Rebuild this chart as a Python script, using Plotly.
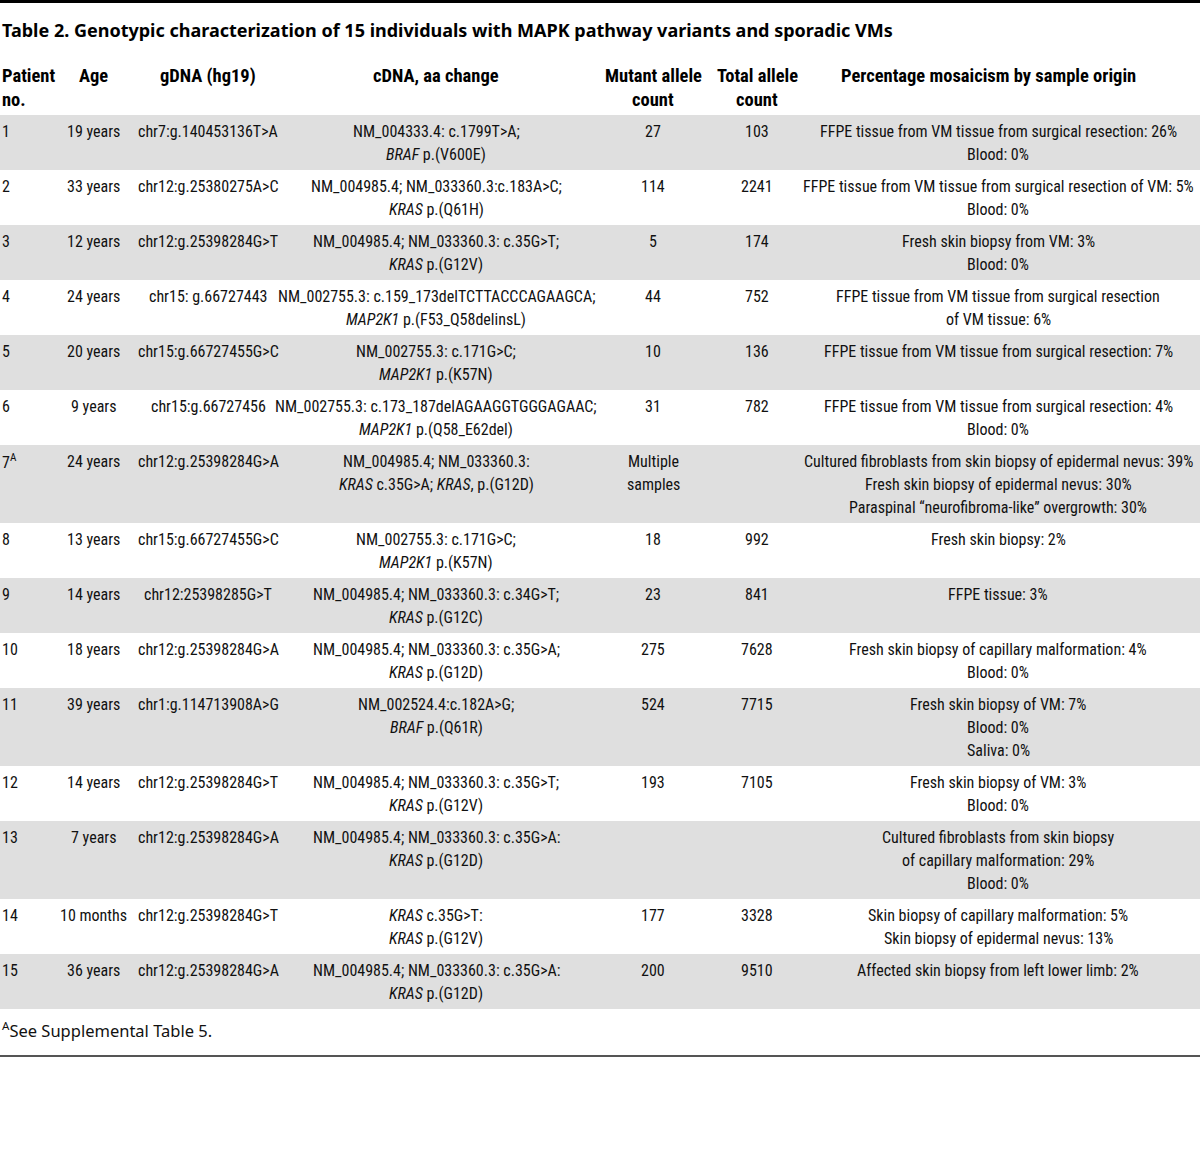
import plotly.graph_objects as go

title = "Table 2. Genotypic characterization of 15 individuals with MAPK pathway variants and sporadic VMs"
headers = ["Patient<br>no.", "Age", "gDNA (hg19)", "cDNA, aa change",
           "Mutant allele<br>count", "Total allele<br>count",
           "Percentage mosaicism by sample origin"]

patient = ["1", "2", "3", "4", "5", "6", "7<sup>A</sup>", "8", "9", "10", "11", "12", "13", "14", "15"]
age = ["19 years", "33 years", "12 years", "24 years", "20 years", "9 years", "24 years", "13 years",
       "14 years", "18 years", "39 years", "14 years", "7 years", "10 months", "36 years"]
gdna = ["chr7:g.140453136T>A", "chr12:g.25380275A>C", "chr12:g.25398284G>T", "chr15: g.66727443",
        "chr15:g.66727455G>C", "chr15:g.66727456", "chr12:g.25398284G>A", "chr15:g.66727455G>C",
        "chr12:25398285G>T", "chr12:g.25398284G>A", "chr1:g.114713908A>G", "chr12:g.25398284G>T",
        "chr12:g.25398284G>A", "chr12:g.25398284G>T", "chr12:g.25398284G>A"]
cdna = [
    "NM_004333.4: c.1799T>A;<br><i>BRAF</i> p.(V600E)",
    "NM_004985.4; NM_033360.3:c.183A>C;<br><i>KRAS</i> p.(Q61H)",
    "NM_004985.4; NM_033360.3: c.35G>T;<br><i>KRAS</i> p.(G12V)",
    "NM_002755.3: c.159_173delTCTTACCCAGAAGCA;<br><i>MAP2K1</i> p.(F53_Q58delinsL)",
    "NM_002755.3: c.171G>C;<br><i>MAP2K1</i> p.(K57N)",
    "NM_002755.3: c.173_187delAGAAGGTGGGAGAAC;<br><i>MAP2K1</i> p.(Q58_E62del)",
    "NM_004985.4; NM_033360.3:<br><i>KRAS</i> c.35G>A; <i>KRAS</i>, p.(G12D)",
    "NM_002755.3: c.171G>C;<br><i>MAP2K1</i> p.(K57N)",
    "NM_004985.4; NM_033360.3: c.34G>T;<br><i>KRAS</i> p.(G12C)",
    "NM_004985.4; NM_033360.3: c.35G>A;<br><i>KRAS</i> p.(G12D)",
    "NM_002524.4:c.182A>G;<br><i>BRAF</i> p.(Q61R)",
    "NM_004985.4; NM_033360.3: c.35G>T;<br><i>KRAS</i> p.(G12V)",
    "NM_004985.4; NM_033360.3: c.35G>A:<br><i>KRAS</i> p.(G12D)",
    "<i>KRAS</i> c.35G>T:<br><i>KRAS</i> p.(G12V)",
    "NM_004985.4; NM_033360.3: c.35G>A:<br><i>KRAS</i> p.(G12D)",
]
mutant = ["27", "114", "5", "44", "10", "31", "Multiple<br>samples", "18", "23", "275", "524", "193", "", "177", "200"]
total = ["103", "2241", "174", "752", "136", "782", "", "992", "841", "7628", "7715", "7105", "", "3328", "9510"]
mosaic = [
    "FFPE tissue from VM tissue from surgical resection: 26%<br>Blood: 0%",
    "FFPE tissue from VM tissue from surgical resection of VM: 5%<br>Blood: 0%",
    "Fresh skin biopsy from VM: 3%<br>Blood: 0%",
    "FFPE tissue from VM tissue from surgical resection<br>of VM tissue: 6%",
    "FFPE tissue from VM tissue from surgical resection: 7%",
    "FFPE tissue from VM tissue from surgical resection: 4%<br>Blood: 0%",
    "Cultured fibroblasts from skin biopsy of epidermal nevus: 39%<br>Fresh skin biopsy of epidermal nevus: 30%<br>Paraspinal “neurofibroma-like” overgrowth: 30%",
    "Fresh skin biopsy: 2%",
    "FFPE tissue: 3%",
    "Fresh skin biopsy of capillary malformation: 4%<br>Blood: 0%",
    "Fresh skin biopsy of VM: 7%<br>Blood: 0%<br>Saliva: 0%",
    "Fresh skin biopsy of VM: 3%<br>Blood: 0%",
    "Cultured fibroblasts from skin biopsy<br>of capillary malformation: 29%<br>Blood: 0%",
    "Skin biopsy of capillary malformation: 5%<br>Skin biopsy of epidermal nevus: 13%",
    "Affected skin biopsy from left lower limb: 2%",
]
footnote = "<sup>A</sup>See Supplemental Table 5."

columns = [patient, age, gdna, cdna, mutant, total, mosaic]
col_x = [0, 93, 208, 436, 653, 757, 998]
head_x = [0, 93, 208, 436, 653, 757, 988]
col_anchor = ["left", "center", "center", "center", "center", "center", "center"]

BODY = "Liberation Sans Narrow, Roboto Condensed, DejaVu Sans Condensed, sans-serif"
LINE_H = 23
GRAY = "#dfdfdf"

fig = go.Figure()
shapes = []
annotations = []

# title and top rule
annotations.append(dict(x=0, y=30, text="<b>" + title + "</b>", xanchor="left", yanchor="middle",
                        showarrow=False, font=dict(family="Noto Sans", size=18, color="#000")))
shapes.append(dict(type="line", x0=0, x1=1200, y0=1.5, y1=1.5, line=dict(color="#000", width=3)))

# header
for c, h in enumerate(headers):
    for k, part in enumerate(h.split("<br>")):
        annotations.append(dict(x=head_x[c], y=76 + k * 24, text="<b>" + part + "</b>",
                                xanchor=col_anchor[c], yanchor="middle", showarrow=False,
                                font=dict(family=BODY, size=18.5, color="#000")))

# body rows, alternating grey bands
top = 115
for r in range(len(patient)):
    n = max(2, max(len(col[r].split("<br>")) for col in columns))
    h = LINE_H * n + 9
    if r % 2 == 0:
        shapes.append(dict(type="rect", x0=0, x1=1200, y0=top, y1=top + h,
                           fillcolor=GRAY, line=dict(width=0), layer="below"))
    for c, col in enumerate(columns):
        if not col[r]:
            continue
        for k, part in enumerate(col[r].split("<br>")):
            annotations.append(dict(x=col_x[c], y=top + 16 + k * LINE_H, text=part,
                                    xanchor=col_anchor[c], yanchor="middle", showarrow=False,
                                    font=dict(family=BODY, size=16, color="#111")))
    top += h

annotations.append(dict(x=0, y=1030, text=footnote, xanchor="left", yanchor="middle", showarrow=False,
                        font=dict(family="Noto Sans", size=16.5, color="#111")))
shapes.append(dict(type="line", x0=0, x1=1200, y0=1056, y1=1056, line=dict(color="#555", width=2)))

fig.update_layout(
    width=1200, height=1164, margin=dict(l=0, r=0, t=0, b=0),
    plot_bgcolor="white", paper_bgcolor="white",
    xaxis=dict(range=[0, 1200], visible=False, fixedrange=True),
    yaxis=dict(range=[1164, 0], visible=False, fixedrange=True),
    shapes=shapes, annotations=annotations, showlegend=False,
)
fig.write_html("out.html", config={"displayModeBar": False},
               post_script="document.body.style.margin='0px';")
